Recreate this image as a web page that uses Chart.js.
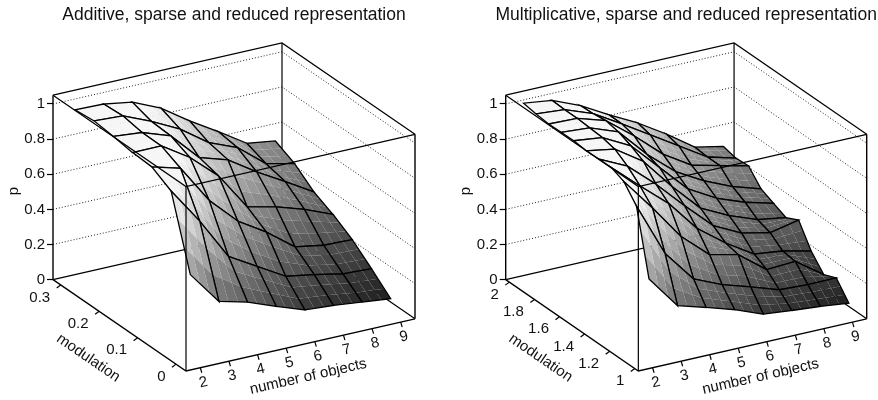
<!DOCTYPE html>
<html>
<head>
<meta charset="utf-8">
<script src="https://cdn.jsdelivr.net/npm/chart.js@4"></script>
<style>
  html, body { margin: 0; padding: 0; background: #fff; }
  canvas { position: absolute; top: 0; }
  #additive { left: 0; }
  #multiplicative { left: 439px; }
</style>
</head>
<body>
<canvas id="additive" width="439" height="400"></canvas>
<canvas id="multiplicative" width="439" height="400"></canvas>
<script>
const objectCounts = [2, 3, 4, 5, 6, 7, 8, 9];
const pTicks = [0, 0.2, 0.4, 0.6, 0.8, 1];

const additiveTicks = [0, 0.1, 0.2, 0.3];
const additiveModulation = [0, 0.05, 0.1, 0.15, 0.2, 0.25, 0.3];
// one row per modulation value, one column per number of objects
const additiveP = [
  [0.491, 0.301, 0.26, 0.199, 0.142, 0.13, 0.112, 0.094],
  [0.892, 0.683, 0.446, 0.352, 0.258, 0.23, 0.197, 0.19],
  [0.954, 0.909, 0.689, 0.534, 0.434, 0.313, 0.285, 0.28],
  [0.96, 0.961, 0.858, 0.716, 0.503, 0.466, 0.414, 0.348],
  [0.977, 0.962, 0.906, 0.745, 0.695, 0.59, 0.497, 0.402],
  [0.99, 0.982, 0.913, 0.832, 0.718, 0.653, 0.524, 0.487],
  [0.978, 0.974, 0.948, 0.877, 0.767, 0.669, 0.565, 0.541]
];

const multiplicativeTicks = [1, 1.2, 1.4, 1.6, 1.8, 2];
const multiplicativeModulation = [1, 1.1, 1.2, 1.3, 1.4, 1.5, 1.6, 1.7, 1.8, 1.9, 2];
const multiplicativeP = [
  [0.491, 0.302, 0.255, 0.205, 0.143, 0.126, 0.112, 0.094],
  [0.857, 0.55, 0.368, 0.298, 0.248, 0.195, 0.187, 0.188],
  [0.947, 0.76, 0.56, 0.42, 0.383, 0.26, 0.27, 0.158],
  [0.978, 0.836, 0.7, 0.52, 0.4, 0.3, 0.28, 0.242],
  [0.977, 0.9, 0.76, 0.6, 0.45, 0.37, 0.335, 0.37],
  [0.975, 0.947, 0.84, 0.66, 0.5, 0.42, 0.36, 0.334],
  [0.983, 0.964, 0.88, 0.72, 0.56, 0.47, 0.41, 0.367],
  [0.982, 0.97, 0.91, 0.745, 0.61, 0.52, 0.45, 0.4],
  [0.98, 0.975, 0.925, 0.8, 0.66, 0.56, 0.52, 0.482],
  [0.988, 0.975, 0.915, 0.82, 0.72, 0.62, 0.52, 0.476],
  [1, 0.979, 0.912, 0.822, 0.739, 0.639, 0.527, 0.494]
];

// Box range and view. The view is orthographic, so it reduces to three axis vectors.
const nRange = [1.5, 9.5];
const pTop = 1.05;
const view = { ux: 229, uy: 52, vx: -133, vy: 91, pz: 175 };
const facetSteps = 3;

function project(panel, n, m, p) {
  const u = (n - nRange[0]) / (nRange[1] - nRange[0]);
  const v = (m - panel.mRange[0]) / (panel.mRange[1] - panel.mRange[0]);
  return { x: view.ux * u + view.vx * v, y: view.uy * u + view.vy * v + view.pz * p };
}

function facetColor(n, p) {
  const u = (n - nRange[0]) / (nRange[1] - nRange[0]);
  const g = Math.round(Math.max(32, Math.min(246, 46 + 235 * p - 40 * u)));
  return `rgb(${g},${g},${g})`;
}

function lineSet(points, extra) {
  return Object.assign({
    data: points, showLine: true, pointRadius: 0, tension: 0, clip: false,
    fill: false, borderColor: '#000', borderWidth: 1.2
  }, extra);
}

function buildDatasets(panel) {
  const sets = [];
  const [n0, n1] = nRange;
  const [m0, m1] = panel.mRange;
  const corner = (n, m, p) => project(panel, n, m, p);

  // back walls and floor, behind the surface
  pTicks.slice(1).forEach(p => {
    sets.push(lineSet([corner(n0, m1, p), corner(n1, m1, p), corner(n1, m0, p)],
      { borderColor: '#222', borderWidth: 1, borderDash: [1, 2] }));
  });
  sets.push(lineSet([corner(n0, m1, 0), corner(n1, m1, 0), corner(n1, m0, 0)]));
  sets.push(lineSet([corner(n0, m1, pTop), corner(n1, m1, pTop), corner(n1, m0, pTop)]));
  sets.push(lineSet([corner(n1, m1, 0), corner(n1, m1, pTop)]));
  sets.push(lineSet([corner(n0, m1, 0), corner(n0, m1, pTop)], { borderWidth: 1.4 }));
  sets.push(lineSet([corner(n1, m0, 0), corner(n1, m0, pTop)], { borderWidth: 1.4 }));

  // surface, painted from the far corner to the near one
  const ms = panel.modulation;
  for (let j = ms.length - 2; j >= 0; j--) {
    for (let i = objectCounts.length - 2; i >= 0; i--) {
      const at = (a, b) => {
        const n = objectCounts[i] + a * (objectCounts[i + 1] - objectCounts[i]);
        const m = ms[j] + b * (ms[j + 1] - ms[j]);
        const p = (1 - a) * (1 - b) * panel.p[j][i] + a * (1 - b) * panel.p[j][i + 1] +
          (1 - a) * b * panel.p[j + 1][i] + a * b * panel.p[j + 1][i + 1];
        return { n, m, p };
      };
      const pt = (a, b) => { const q = at(a, b); return corner(q.n, q.m, q.p); };
      for (let b = facetSteps - 1; b >= 0; b--) {
        for (let a = facetSteps - 1; a >= 0; a--) {
          const a0 = a / facetSteps, a1 = (a + 1) / facetSteps;
          const b0 = b / facetSteps, b1 = (b + 1) / facetSteps;
          const mid = at((a0 + a1) / 2, (b0 + b1) / 2);
          const c = facetColor(mid.n, mid.p);
          sets.push(lineSet([pt(a0, b0), pt(a1, b0), pt(a1, b1), pt(a0, b1), pt(a0, b0)],
            { fill: 'shape', backgroundColor: c, borderWidth: 0 }));
        }
      }
      sets.push(lineSet([pt(0, 0), pt(1, 0), pt(1, 1), pt(0, 1), pt(0, 0)], { borderWidth: 1.3 }));
    }
  }

  // front edges and the axis ticks, on top
  sets.push(lineSet([corner(n0, m1, pTop), corner(n0, m0, pTop), corner(n1, m0, pTop)]));
  sets.push(lineSet([corner(n0, m0, 0), corner(n0, m0, pTop)]));
  sets.push(lineSet([corner(n0, m1, 0), corner(n0, m0, 0), corner(n1, m0, 0)], { borderWidth: 1.3 }));
  objectCounts.forEach(n => {
    const a = corner(n, m0, 0);
    sets.push(lineSet([a, { x: a.x + 1.5, y: a.y - 5 }]));
  });
  panel.ticks.forEach(m => {
    const a = corner(n0, m, 0);
    sets.push(lineSet([a, { x: a.x - 4, y: a.y - 3 }]));
  });

  // first dataset in the list is painted first
  sets.forEach((s, idx) => { s.order = sets.length - idx; });
  return sets;
}

const textLabels = {
  id: 'textLabels',
  afterDraw(chart, args, opts) {
    const panel = opts.panel;
    const { ctx, scales, chartArea } = chart;
    const px = q => ({ x: scales.x.getPixelForValue(q.x), y: scales.y.getPixelForValue(q.y) });
    const slope = Math.atan2(view.uy, view.ux);
    ctx.save();
    ctx.fillStyle = '#111';
    ctx.textBaseline = 'middle';
    ctx.textAlign = 'center';

    // the built-in title squeezes long text to the plot width, so it goes here
    ctx.font = '17.5px "Liberation Sans"';
    ctx.fillText(panel.title, (chartArea.left + chartArea.right) / 2, 15);

    ctx.font = '15px "Liberation Sans"';

    // number of objects ticks
    objectCounts.forEach(n => {
      const a = px(project(panel, n, panel.mRange[0], 0));
      ctx.save();
      ctx.translate(a.x + 3.2, a.y + 14.7);
      ctx.rotate(-slope);
      ctx.fillText(String(n), 0, 0);
      ctx.restore();
    });

    // modulation ticks
    ctx.textAlign = 'right';
    panel.ticks.forEach(m => {
      const a = px(project(panel, nRange[0], m, 0));
      ctx.fillText(String(m), a.x - 10.5, a.y + 12.5);
    });

    // axis titles
    ctx.textAlign = 'center';
    const a = px(project(panel, nRange[0], panel.mRange[0], 0));
    ctx.save();
    ctx.translate(a.x + 122.3, a.y + 5.7);
    ctx.rotate(-slope);
    ctx.fillText('number of objects', 0, 0);
    ctx.restore();
    ctx.save();
    ctx.translate(a.x - 97.7, a.y - 13);
    ctx.rotate(Math.atan2(view.vy, -view.vx));
    ctx.fillText('modulation', 0, 0);
    ctx.restore();
    ctx.save();
    ctx.translate(a.x - 172, a.y - 180);
    ctx.rotate(-Math.PI / 2);
    ctx.fillText('p', 0, 0);
    ctx.restore();
    ctx.restore();
  }
};

function drawPanel(panel) {
  new Chart(document.getElementById(panel.id), {
    type: 'scatter',
    data: { datasets: buildDatasets(panel) },
    plugins: [textLabels],
    options: {
      responsive: false,
      animation: false,
      events: [],
      layout: { padding: { left: panel.left, right: panel.right, top: 43, bottom: 29 } },
      plugins: {
        legend: { display: false },
        tooltip: { enabled: false },
        textLabels: { panel },
        title: { display: false }
      },
      scales: {
        x: { type: 'linear', display: false, min: view.vx, max: view.ux },
        y: { type: 'linear', display: false, min: 0, max: view.uy + view.vy + view.pz * pTop },
        p: {
          type: 'linear',
          position: 'left',
          min: -view.vy / view.pz,
          max: pTop + view.uy / view.pz,
          afterFit(scale) { scale.width = 53; },
          afterBuildTicks(scale) { scale.ticks = pTicks.map(value => ({ value })); },
          border: { display: false },
          grid: { drawOnChartArea: false, drawTicks: true, tickLength: 6, color: '#000', tickWidth: 1.2 },
          ticks: {
            color: '#111',
            padding: 2,
            autoSkip: false,
            font: { family: 'Liberation Sans', size: 15 },
            callback: value => String(value)
          }
        }
      }
    }
  });
}

drawPanel({
  id: 'additive',
  title: 'Additive, sparse and reduced representation',
  mRange: [-0.026, 0.32],
  modulation: additiveModulation,
  ticks: additiveTicks,
  p: additiveP,
  left: 0,
  right: 24
});
drawPanel({
  id: 'multiplicative',
  title: 'Multiplicative, sparse and reduced representation',
  mRange: [0.9715, 2.0286],
  modulation: multiplicativeModulation,
  ticks: multiplicativeTicks,
  p: multiplicativeP,
  left: 13.7,
  right: 11.3
});
</script>
</body>
</html>
